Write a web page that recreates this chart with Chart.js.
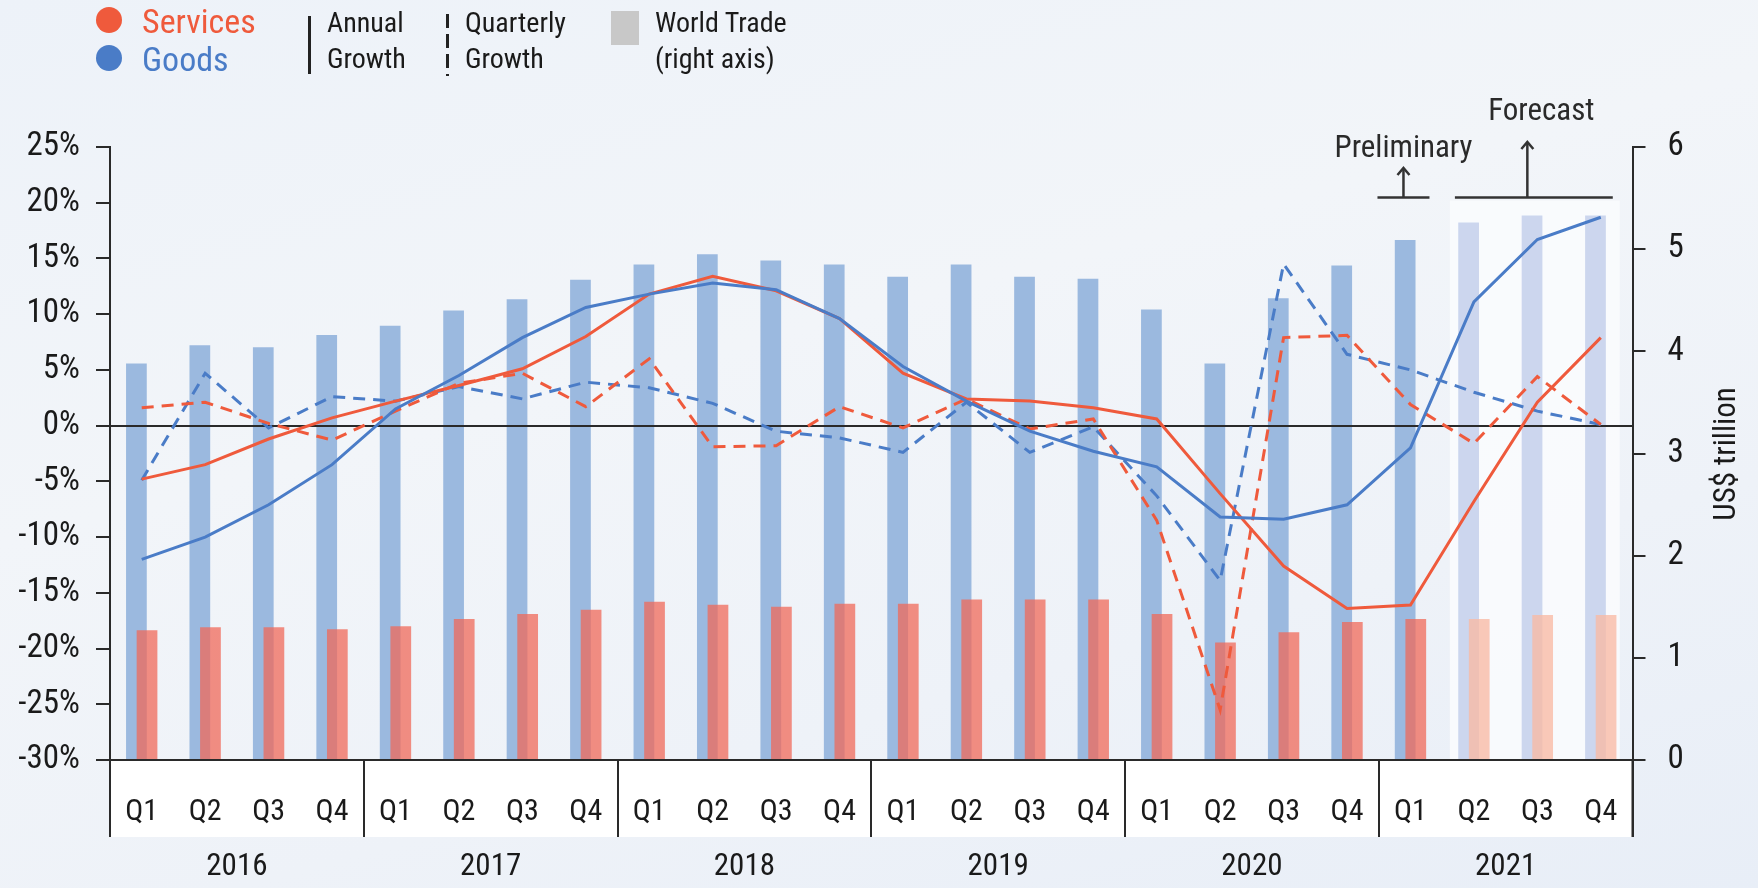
<!DOCTYPE html>
<html><head><meta charset="utf-8">
<script src="https://cdn.jsdelivr.net/npm/chart.js@4.4.1/dist/chart.umd.min.js"></script>
<style>
html,body{margin:0;padding:0;}
body{width:1758px;height:888px;overflow:hidden;background:linear-gradient(165deg,#edf2f9 0%,#f2f5f9 40%,#eef2f8 70%,#e8eef7 100%);font-family:Roboto,sans-serif;font-stretch:semi-condensed;}
#wrap{position:relative;width:1758px;height:888px;}
#c{position:absolute;left:0;top:0;}
.lg{position:absolute;white-space:nowrap;line-height:1;color:#1a1a1a;font-size:28px;font-family:Roboto,sans-serif;font-stretch:semi-condensed;}
.dot{position:absolute;width:26px;height:26px;border-radius:50%;}
</style></head><body>
<div id="wrap">
<canvas id="c" width="1758" height="888"></canvas>
<div class="dot" style="left:96px;top:7px;background:#ef5a3c"></div>
<div class="dot" style="left:96px;top:45px;background:#4a7cc7"></div>
<div class="lg" style="left:142px;top:4px;font-size:34px;color:#ef5a3c">Services</div>
<div class="lg" style="left:142px;top:42px;font-size:34px;color:#4a7cc7">Goods</div>
<div style="position:absolute;left:308px;top:16px;width:3px;height:58px;background:#222"></div>
<div class="lg" style="left:327px;top:9px">Annual</div>
<div class="lg" style="left:327px;top:45px">Growth</div>
<div style="position:absolute;left:446px;top:14px;width:3px;height:62px;background:repeating-linear-gradient(to bottom,#222 0,#222 14px,transparent 14px,transparent 20px)"></div>
<div class="lg" style="left:465px;top:9px">Quarterly</div>
<div class="lg" style="left:465px;top:45px">Growth</div>
<div style="position:absolute;left:611px;top:11px;width:28px;height:34px;background:#c8c8c8"></div>
<div class="lg" style="left:655px;top:9px">World Trade</div>
<div class="lg" style="left:655px;top:45px">(right axis)</div>
</div>
<script>
const quarters = ['Q1','Q2','Q3','Q4'];
const years = ['2016','2017','2018','2019','2020','2021'];
// World trade, US$ trillion (right axis)
const goodsTrade    = [3.88,4.06,4.04,4.16, 4.25,4.40,4.51,4.70, 4.85,4.95,4.89,4.85, 4.73,4.85,4.73,4.71, 4.41,3.88,4.52,4.84, 5.09,5.26,5.33,5.33];
const servicesTrade = [1.27,1.30,1.30,1.28, 1.31,1.38,1.43,1.47, 1.55,1.52,1.50,1.53, 1.53,1.57,1.57,1.57, 1.43,1.15,1.25,1.35, 1.38,1.38,1.42,1.42];
// Growth, % (left axis)
const servicesAnnual    = [-4.8,-3.5,-1.2,0.7, 2.2,3.6,5.1,8.0, 11.8,13.4,12.1,9.6, 4.7,2.4,2.2,1.6, 0.6,-6.1,-12.6,-16.4, -16.1,-6.8,2.1,7.9];
const goodsAnnual       = [-12.0,-10.0,-7.1,-3.5, 1.5,4.5,7.9,10.6, 11.8,12.8,12.2,9.6, 5.3,2.2,-0.5,-2.3, -3.7,-8.2,-8.4,-7.1, -2.0,11.1,16.7,18.7];
const servicesQuarterly = [1.6,2.1,0.2,-1.3, 1.3,3.8,4.7,1.7, 6.0,-1.9,-1.8,1.7, -0.2,2.4,-0.3,0.6, -8.5,-25.5,7.9,8.1, 1.9,-1.6,4.4,0.1];
const goodsQuarterly    = [-4.9,4.7,-0.2,2.6, 2.2,3.5,2.4,3.9, 3.4,2.0,-0.5,-1.1, -2.4,2.1,-2.4,-0.1, -6.3,-13.9,14.5,6.4, 5.0,3.0,1.3,0.1];
const leftRange = [-30, 25];
const rightRange = [0, 6];
const preliminaryIndex = 20;
const forecastStart = 21;

const labels = [];
years.forEach(y => quarters.forEach(q => labels.push(q)));

const RED = '#ef5a3c', BLUE = '#4a7cc7';
const FAM = 'Roboto, sans-serif';
const COND = 'semi-condensed';
const F = (size) => COND + ' ' + size + 'px ' + FAM;
const blueBar = labels.map((_, i) => i >= forecastStart ? '#ccd6ee' : '#9bb9df');
const redBar = labels.map((_, i) => i >= forecastStart ? 'rgba(249,186,164,0.78)' : 'rgba(240,104,88,0.74)');
const BOX_H = 77;

const deco = {
  id: 'deco',
  beforeDraw(chart) {
    const {ctx, chartArea: a, scales: {x, y}} = chart;
    const cw = x.getPixelForValue(1) - x.getPixelForValue(0);
    ctx.save();
    ctx.fillStyle = '#ffffff';
    ctx.fillRect(a.left, a.bottom, a.right - a.left, BOX_H);
    const fx0 = x.getPixelForValue(forecastStart) - 0.38 * cw;
    const fx1 = x.getPixelForValue(labels.length - 1) + 0.3 * cw;
    const fy = y.getPixelForValue(20.2);
    ctx.fillStyle = 'rgba(250,251,254,0.85)';
    ctx.fillRect(fx0, fy, fx1 - fx0, a.bottom - fy);
    ctx.restore();
  },
  beforeDatasetDraw(chart, args) {
    // services bars are drawn right after goods bars so they sit on top
    if (args.index === 1) return false;
  },
  afterDatasetDraw(chart, args) {
    if (args.index !== 0) return;
    const {ctx, chartArea: a, scales: {y}} = chart;
    ctx.save();
    chart.getDatasetMeta(1).controller.draw();
    ctx.restore();
    const zy = Math.round(y.getPixelForValue(0));
    ctx.save();
    ctx.strokeStyle = '#2a2a2a';
    ctx.lineWidth = 2.2;
    ctx.beginPath(); ctx.moveTo(a.left, zy); ctx.lineTo(a.right, zy); ctx.stroke();
    ctx.restore();
  },
  afterDraw(chart) {
    const {ctx, chartArea: a, scales: {x}} = chart;
    const cw = x.getPixelForValue(1) - x.getPixelForValue(0);
    ctx.save();
    ctx.strokeStyle = '#2a2a2a';
    ctx.lineWidth = 2;
    ctx.beginPath();
    for (let k = 0; k <= years.length; k++) {
      const px = Math.round(x.getPixelForValue(k * 4) - cw / 2);
      ctx.moveTo(px, a.bottom); ctx.lineTo(px, a.bottom + BOX_H);
    }
    ctx.stroke();
    ctx.fillStyle = '#1a1a1a';
    ctx.font = F(31);
    ctx.textAlign = 'center';
    ctx.textBaseline = 'middle';
    years.forEach((yr, k) => {
      const cx = (x.getPixelForValue(k * 4) + x.getPixelForValue(k * 4 + 3)) / 2;
      ctx.fillText(yr, cx, a.bottom + 107);
    });
    // annotations
    ctx.strokeStyle = '#333';
    ctx.lineWidth = 2.5;
    const lineY = 197.5;
    const arrow = (ax, y0, y1) => {
      ctx.beginPath(); ctx.moveTo(ax, y0); ctx.lineTo(ax, y1); ctx.stroke();
      ctx.beginPath(); ctx.moveTo(ax - 6, y1 + 7); ctx.lineTo(ax, y1); ctx.lineTo(ax + 6, y1 + 7); ctx.stroke();
    };
    const pc = x.getPixelForValue(preliminaryIndex) - 7;
    ctx.beginPath(); ctx.moveTo(pc - 26, lineY); ctx.lineTo(pc + 26, lineY); ctx.stroke();
    arrow(pc, lineY, 168);
    const f0 = x.getPixelForValue(forecastStart) - 19;
    const f1 = x.getPixelForValue(labels.length - 1) + 12;
    ctx.beginPath(); ctx.moveTo(f0, lineY); ctx.lineTo(f1, lineY); ctx.stroke();
    const fc = x.getPixelForValue(forecastStart + 1) - 10;
    arrow(fc, lineY, 142);
    ctx.font = F(31);
    ctx.fillStyle = '#2a2a2a';
    ctx.fillText('Preliminary', pc, 149);
    ctx.fillText('Forecast', fc + 14, 112);
    // right axis title
    ctx.translate(1727, 454);
    ctx.rotate(-Math.PI / 2);
    ctx.font = F(31);
    ctx.fillStyle = '#1a1a1a';
    ctx.fillText('US$ trillion', 0, 0);
    ctx.restore();
    // extend axes down through the category box
    ctx.save();
    ctx.strokeStyle = '#2a2a2a'; ctx.lineWidth = 2;
    ctx.beginPath();
    ctx.moveTo(a.left, a.bottom); ctx.lineTo(a.left, a.bottom + BOX_H);
    ctx.moveTo(a.right, a.bottom); ctx.lineTo(a.right, a.bottom + BOX_H);
    ctx.stroke();
    ctx.restore();
  }
};

const tickFont = (size) => ({family: FAM, size, weight: COND});

new Chart(document.getElementById('c'), {
  data: {
    labels,
    datasets: [
      {type: 'bar', label: 'Goods trade', data: goodsTrade, yAxisID: 'y2', backgroundColor: blueBar, order: 3,
       categoryPercentage: 0.335, barPercentage: 1.95},
      {type: 'bar', label: 'Services trade', data: servicesTrade, yAxisID: 'y2', backgroundColor: redBar, order: 4,
       categoryPercentage: 0.335, barPercentage: 1.95},
      {type: 'line', label: 'Services annual', data: servicesAnnual, yAxisID: 'y', borderColor: RED, borderWidth: 3, pointRadius: 0, tension: 0, order: 1},
      {type: 'line', label: 'Goods annual', data: goodsAnnual, yAxisID: 'y', borderColor: BLUE, borderWidth: 3, pointRadius: 0, tension: 0, order: 0},
      {type: 'line', label: 'Services quarterly', data: servicesQuarterly, yAxisID: 'y', borderColor: RED, borderWidth: 3, borderDash: [12, 8], pointRadius: 0, tension: 0, order: 2},
      {type: 'line', label: 'Goods quarterly', data: goodsQuarterly, yAxisID: 'y', borderColor: BLUE, borderWidth: 3, borderDash: [12, 8], pointRadius: 0, tension: 0, order: 2}
    ]
  },
  options: {
    responsive: false,
    animation: false,
    devicePixelRatio: 1,
    layout: {padding: {top: 147, left: 0, right: 0, bottom: 0}},
    plugins: {legend: {display: false}, tooltip: {enabled: false}},
    scales: {
      x: {
        type: 'category', position: 'bottom',
        grid: {display: false},
        border: {display: true, color: '#2a2a2a', width: 2},
        ticks: {color: '#1a1a1a', font: tickFont(30), padding: 26, maxRotation: 0, autoSkip: false},
        afterFit(s) { s.height = 128; }
      },
      y: {
        position: 'left', min: leftRange[0], max: leftRange[1],
        grid: {display: true, drawOnChartArea: false, drawTicks: true, tickLength: 14, color: '#2a2a2a', lineWidth: 2},
        border: {display: true, color: '#2a2a2a', width: 2},
        ticks: {stepSize: 5, color: '#1a1a1a', padding: 16, font: tickFont(33), callback: v => v + '%'},
        afterFit(s) { s.width = 110; }
      },
      y2: {
        position: 'right', min: rightRange[0], max: rightRange[1],
        grid: {display: true, drawOnChartArea: false, drawTicks: true, tickLength: 13, color: '#2a2a2a', lineWidth: 2},
        border: {display: true, color: '#2a2a2a', width: 2},
        ticks: {stepSize: 1, color: '#1a1a1a', padding: 22, font: tickFont(33)},
        afterFit(s) { s.width = 125.5; }
      }
    }
  },
  plugins: [deco]
});
</script>
</body></html>
